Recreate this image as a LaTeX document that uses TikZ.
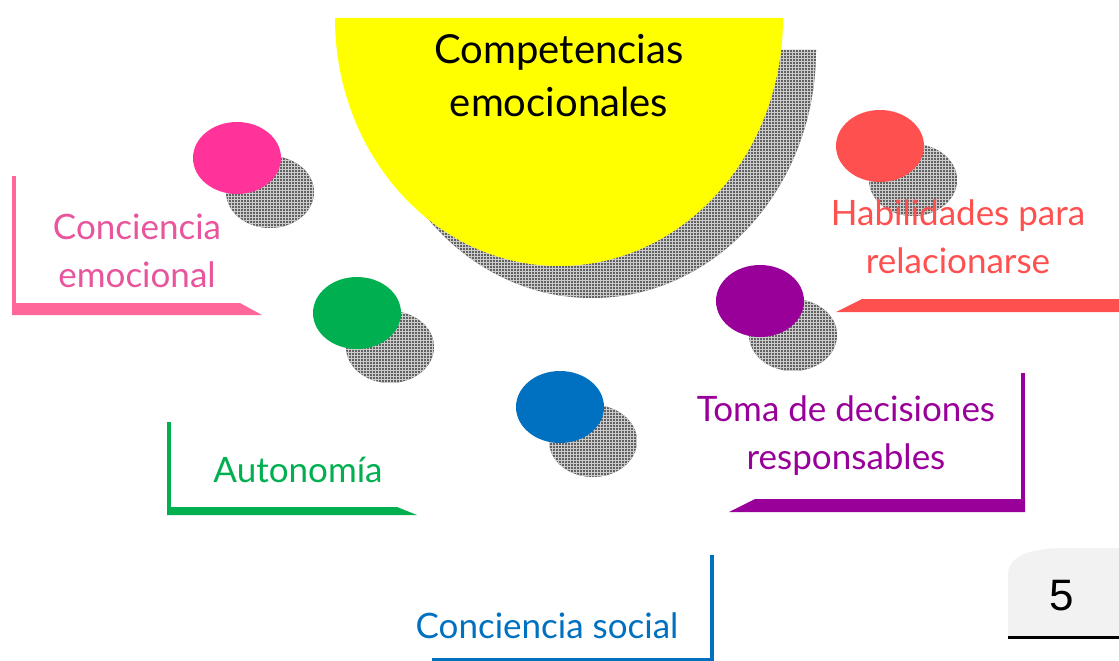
\documentclass[tikz,border=0pt]{standalone}
\usepackage{fontspec}
\setmainfont{Lato}
\newfontfamily\numfont{Liberation Sans}
\usetikzlibrary{patterns}
\definecolor{cyel}{HTML}{FFFF00}
\definecolor{cpinkc}{HTML}{FF3399}
\definecolor{cpinkb}{HTML}{FF6699}
\definecolor{cpinkt}{HTML}{E8559C}
\definecolor{cgreen}{HTML}{00B050}
\definecolor{cblue}{HTML}{0070C0}
\definecolor{cpurple}{HTML}{990099}
\definecolor{ccoral}{HTML}{FF5050}
\definecolor{ctab}{HTML}{F2F2F2}
\begin{document}
\begin{tikzpicture}[x=1pt,y=-1pt,
  shadowfill/.style={fill=black!62, postaction={pattern=grid, pattern color=white!80!black}},
  lbl/.style={align=center, inner sep=0pt, font=\fontsize{35}{48}\selectfont},
  head/.style={align=center, inner sep=0pt, font=\fontsize{40}{53}\selectfont, text=black},
]
\useasboundingbox[fill=white] (0,0) rectangle (1119,661);

% shadow of the central half-ellipse
\path[shadowfill] (368,50) arc[start angle=180, end angle=0, x radius=224, y radius=248] -- cycle;
\fill[cyel] (335,18) arc[start angle=180, end angle=0, x radius=224, y radius=248] -- cycle;

% circle shadows
\path[shadowfill] (270,192) ellipse [x radius=44, y radius=36];
\path[shadowfill] (390,347) ellipse [x radius=44, y radius=36];
\path[shadowfill] (593,441) ellipse [x radius=44, y radius=36];
\path[shadowfill] (793,335) ellipse [x radius=44, y radius=36];
\path[shadowfill] (913,180) ellipse [x radius=44, y radius=36];

% coloured circles
\fill[cpinkc]  (237,158) ellipse [x radius=44, y radius=36];
\fill[cgreen]  (357,313) ellipse [x radius=44, y radius=36];
\fill[cblue]   (560,407) ellipse [x radius=44, y radius=36];
\fill[cpurple] (760,301) ellipse [x radius=44, y radius=36];
\fill[ccoral]  (880,146) ellipse [x radius=44, y radius=36];

% brackets
\fill[cpinkb] (12,176) rectangle (16,315);
\fill[cpinkb] (12,303) -- (240,303) -- (262,315) -- (12,315) -- cycle;
\fill[cgreen] (167,422) rectangle (171,515);
\fill[cgreen] (167,507) -- (397,507) -- (417,515) -- (167,515) -- cycle;
\fill[ccoral] (862,299) -- (1119,299) -- (1119,312) -- (836,312) -- cycle;
\fill[cpurple] (1021,373) rectangle (1025,512);
\fill[cpurple] (755,499) -- (1025,499) -- (1025,512) -- (729,512) -- cycle;
\fill[cblue] (710,555) rectangle (714,661);
\fill[cblue] (432,658) rectangle (714,661);

% page tab
\fill[ctab] (1008,637) -- (1008,575) .. controls (1008,556) and (1030,548) .. (1065,548) -- (1119,548) -- (1119,637) -- cycle;
\draw[line width=3pt] (1008,637.5) -- (1119,637.5);

% texts
\node[head] (title) at (559,76) {Competencias\\emocionales};
\node[lbl, text=cpinkt] (ce) at (137,251) {Conciencia\\emocional};
\node[lbl, text=ccoral] (hr) at (958,237) {Habilidades para\\relacionarse};
\node[lbl, text=cgreen, anchor=base] (au) at (298,482) {Autonomía};
\node[lbl, text=cpurple] (td) at (846,436) {Toma de decisiones\\responsables};
\node[lbl, text=cblue, anchor=base] (cs) at (547,638) {Conciencia social};
\node[inner sep=0pt, anchor=base, font=\numfont\fontsize{44}{44}\selectfont] (num) at (1062,610) {5};
\end{tikzpicture}
\end{document}
